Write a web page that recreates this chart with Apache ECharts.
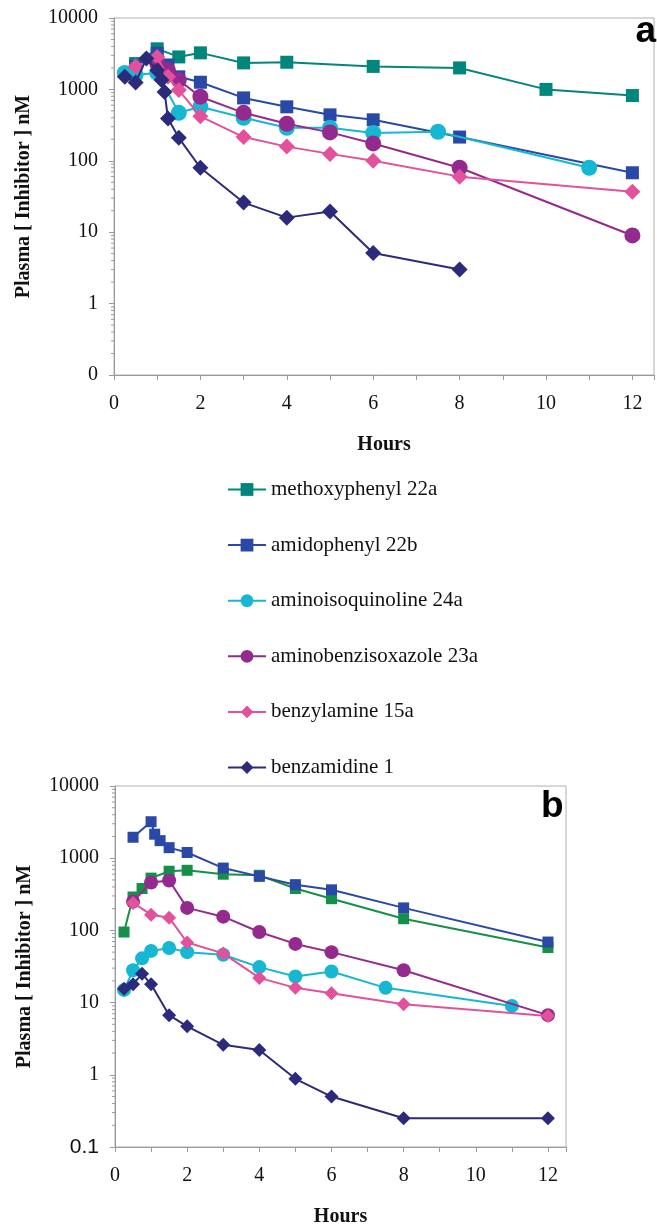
<!DOCTYPE html>
<html>
<head>
<meta charset="utf-8">
<script src="https://cdn.jsdelivr.net/npm/echarts@6/dist/echarts.min.js"></script>
<style>
  html, body { margin: 0; padding: 0; background: #fff; }
  #chart { width: 657px; height: 1228px; }
</style>
</head>
<body>
<div id="chart"></div>
<script>
// ---------- data ----------
const seriesNames = ['methoxyphenyl 22a', 'amidophenyl 22b', 'aminoisoquinoline 24a',
  'aminobenzisoxazole 23a', 'benzylamine 15a', 'benzamidine 1'];

// panel a
const tA_meth = [0.5, 1, 1.5, 2, 3, 4, 6, 8, 10, 12];
const vA_meth = [2300, 3700, 2850, 3250, 2350, 2400, 2100, 2000, 1000, 820];
const tA_amido = [0.5, 1, 1.25, 1.5, 2, 3, 4, 5, 6, 8, 12];
const vA_amido = [2100, 3200, 2200, 1500, 1260, 760, 570, 440, 375, 215, 68];
const tA_isoq = [0.25, 0.5, 1, 1.5, 2, 3, 4, 5, 6, 7.5, 11];
const vA_isoq = [1700, 1600, 1700, 470, 570, 400, 290, 290, 245, 255, 80];
const tA_benzis = [1, 1.25, 1.5, 2, 3, 4, 5, 6, 8, 12];
const vA_benzis = [2300, 1850, 1350, 790, 470, 330, 250, 175, 80, 9];
const tA_benzyl = [0.5, 1, 1.25, 1.5, 2, 3, 4, 5, 6, 8, 12];
const vA_benzyl = [2100, 2850, 1500, 980, 420, 215, 158, 125, 100, 60, 37];
const tA_benzam = [0.25, 0.5, 0.75, 1, 1.1, 1.17, 1.25, 1.5, 2, 3, 4, 5, 6, 8];
const vA_benzam = [1500, 1250, 2700, 1850, 1350, 920, 390, 210, 80, 26, 16, 19.5, 5.1, 3];

// panel b
const tB_meth = [0.25, 0.5, 0.75, 1, 1.5, 2, 3, 4, 5, 6, 8, 12];
const vB_meth = [95, 290, 380, 530, 660, 680, 600, 580, 380, 275, 145, 58];
const tB_amido = [0.5, 1, 1.1, 1.25, 1.5, 2, 3, 4, 5, 6, 8, 12];
const vB_amido = [1950, 3200, 2150, 1750, 1400, 1200, 730, 560, 430, 365, 205, 69];
const tB_isoq = [0.25, 0.5, 0.75, 1, 1.5, 2, 3, 4, 5, 6, 7.5, 11];
const vB_isoq = [15, 28, 41, 52, 57, 50, 46, 31, 23, 27, 16, 9];
const tB_benzis = [0.5, 1, 1.5, 2, 3, 4, 5, 6, 8, 12];
const vB_benzis = [250, 460, 490, 205, 155, 95, 65, 50, 28, 6.7];
const tB_benzyl = [0.5, 1, 1.5, 2, 3, 4, 5, 6, 8, 12];
const vB_benzyl = [240, 165, 150, 68, 48, 22, 16, 13.5, 9.5, 6.5];
const tB_benzam = [0.25, 0.5, 0.75, 1, 1.5, 2, 3, 4, 5, 6, 8, 12];
const vB_benzam = [15.5, 18, 25, 18, 6.7, 4.7, 2.6, 2.2, 0.88, 0.5, 0.25, 0.25];

// axis tick values
const xTicks = [0, 2, 4, 6, 8, 10, 12];
const yMinorFactors = [2, 3, 4, 5, 6, 7, 8, 9];

// ---------- styling ----------
const colorsA = ['#00867a', '#2a49a6', '#16b7d3', '#952a8e', '#e2519c', '#2c2a7b'];
const colorsB = ['#15904a', '#2a49a6', '#16b7d3', '#952a8e', '#e2519c', '#2c2a7b'];
const symbols = ['rect', 'rect', 'circle', 'circle', 'diamond', 'diamond'];
const sizesA = [13, 13, 16, 16, 16, 16];
const sizesB = [11, 11, 14, 14, 14, 14];

const SERIF = '"Liberation Serif", "Times New Roman", serif';
const SANS = '"Liberation Sans", Arial, sans-serif';

const panelA = [[tA_meth, vA_meth], [tA_amido, vA_amido], [tA_isoq, vA_isoq],
  [tA_benzis, vA_benzis], [tA_benzyl, vA_benzyl], [tA_benzam, vA_benzam]];
const panelB = [[tB_meth, vB_meth], [tB_amido, vB_amido], [tB_isoq, vB_isoq],
  [tB_benzis, vB_benzis], [tB_benzyl, vB_benzyl], [tB_benzam, vB_benzam]];

function pairs(t, v) { return t.map((x, i) => [x, v[i]]); }

const minorVals = [];
for (let e = -1; e < 4; e++) {
  yMinorFactors.forEach(f => minorVals.push([0, f * Math.pow(10, e)]));
}

const AXIS_GRAY = '#9a9a9a';

function xAxisCfg(gridIndex) {
  return {
    type: 'value', gridIndex, min: 0, max: 12.5, interval: 1,
    name: 'Hours', nameLocation: 'middle', nameGap: 60,
    nameTextStyle: { fontFamily: SERIF, fontWeight: 'bold', fontSize: 20, color: '#111' },
    axisLine: { onZero: false, lineStyle: { color: AXIS_GRAY, width: 1 } },
    axisTick: { show: true, length: 5, lineStyle: { color: AXIS_GRAY } },
    axisLabel: {
      margin: 19, fontFamily: SERIF, fontSize: 20, color: '#111',
      formatter: v => (xTicks.indexOf(v) >= 0 ? String(v) : '')
    },
    splitLine: { show: false }
  };
}

function yAxisCfg(gridIndex, panel) {
  return {
    type: 'log', logBase: 10, gridIndex, min: 0.1, max: 10000,
    name: 'Plasma [ Inhibitor ] nM', nameLocation: 'middle', nameGap: 80,
    nameTextStyle: { fontFamily: SERIF, fontWeight: 'bold', fontSize: 20, color: '#111' },
    axisLine: { onZero: false, lineStyle: { color: AXIS_GRAY, width: 1 } },
    axisTick: { show: true, length: 5, lineStyle: { color: AXIS_GRAY } },
    axisLabel: {
      margin: 16, fontFamily: SERIF, fontSize: 20, color: '#111',
      formatter: v => {
        if (v < 0.5) return panel === 'a' ? '0' : '{s|0.1}';
        return String(Math.round(v));
      },
      rich: { s: { fontFamily: SANS, fontSize: 21, color: '#111' } }
    },
    splitLine: { show: false }
  };
}

const series = [];
function addPanel(panel, data, colors, sizes, idx) {
  data.forEach((d, i) => {
    series.push({
      type: 'line', name: seriesNames[i], xAxisIndex: idx, yAxisIndex: idx,
      data: pairs(d[0], d[1]),
      symbol: symbols[i], symbolSize: sizes[i],
      lineStyle: { color: colors[i], width: 2 },
      itemStyle: { color: colors[i] },
      animation: false, clip: false, z: 2 + i
    });
  });
  series.push({
    type: 'custom', xAxisIndex: idx, yAxisIndex: idx, data: minorVals,
    silent: true, animation: false, clip: false, z: 1,
    renderItem: (params, api) => {
      const p = api.coord([api.value(0), api.value(1)]);
      return { type: 'line', shape: { x1: p[0] - 3, y1: p[1], x2: p[0], y2: p[1] },
        style: { stroke: AXIS_GRAY, lineWidth: 1 } };
    }
  });
}
addPanel('a', panelA, colorsA, sizesA, 0);
addPanel('b', panelB, colorsB, sizesB, 1);

const option = {
  backgroundColor: '#fff',
  animation: false,
  grid: [
    { left: 114, top: 18, width: 544, height: 357, show: true, borderColor: '#b0b0b0', borderWidth: 1 },
    { left: 115, top: 786, width: 451, height: 365, show: true, borderColor: '#b0b0b0', borderWidth: 1 }
  ],
  xAxis: [xAxisCfg(0), xAxisCfg(1)],
  yAxis: [yAxisCfg(0, 'a'), yAxisCfg(1, 'b')],
  legend: {
    data: seriesNames, orient: 'vertical', left: 227, top: 479, padding: 0,
    itemWidth: 38, itemHeight: 16, itemGap: 34.6,
    textStyle: { fontFamily: SERIF, fontSize: 21, color: '#111', lineHeight: 20 },
    selectedMode: false
  },
  graphic: [
    { type: 'text', right: 1, top: 13, z: 100,
      style: { text: 'a', font: 'bold 37px ' + SANS, fill: '#000' } },
    { type: 'text', left: 541, top: 788, z: 100,
      style: { text: 'b', font: 'bold 37px ' + SANS, fill: '#000' } }
  ],
  series
};

const chart = echarts.init(document.getElementById('chart'), null, { renderer: 'canvas' });
chart.setOption(option);
</script>
</body>
</html>
